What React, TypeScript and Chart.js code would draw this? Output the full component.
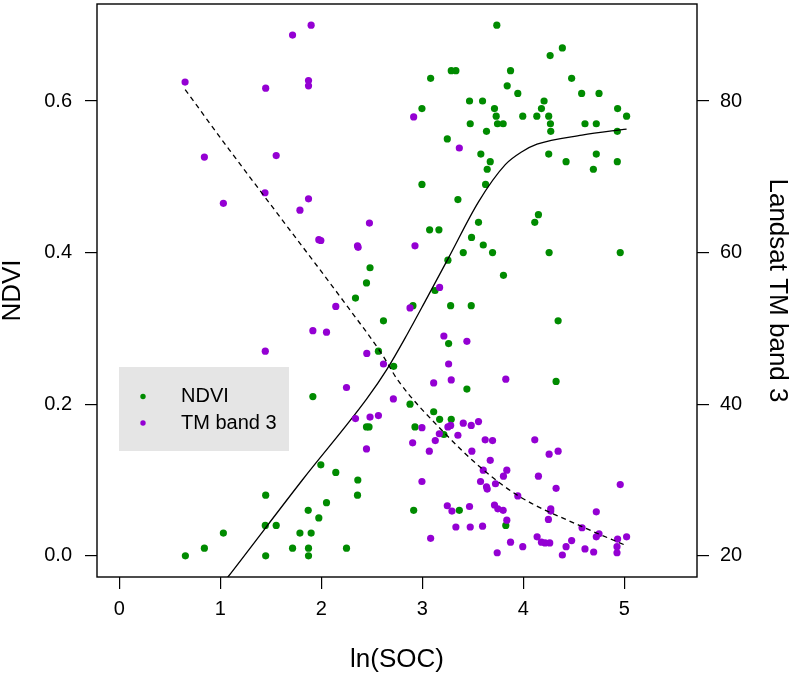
import React, { useEffect, useRef } from "react";
import { Chart, registerables } from "chart.js";

Chart.register(...registerables);

// ln(SOC) vs NDVI (green points)
const ndviX = [
  3.738, 4.387, 4.266, 3.287, 3.333, 3.874, 3.083, 4.479, 3.841, 3.946, 4.578, 4.75, 3.468, 3.597, 4.206,
  2.997, 3.715, 4.18, 4.934, 3.732, 3.995, 4.134, 4.252, 5.023, 3.475, 3.745, 3.801, 4.269, 4.611, 4.723,
  3.636, 4.272, 4.931, 3.248, 3.58, 4.252, 4.723, 3.673, 4.424, 4.931, 3.643, 4.694, 2.997, 3.627, 3.353,
  4.15, 4.114, 3.557, 3.073, 3.165, 3.488, 3.604, 3.406, 3.696, 4.256, 4.96, 3.254, 3.804, 3.126, 2.908,
  3.281, 3.485, 4.345, 3.261, 4.325, 3.442, 2.483, 2.448, 2.339, 2.616, 2.566, 2.717, 2.879, 3.113, 3.172,
  3.287, 2.928, 3.214, 2.915, 3.367, 3.827, 1.917, 2.448, 2.473, 1.996, 2.144, 2.362, 1.45, 2.359, 2.052,
  1.871, 1.976, 1.031, 1.446, 1.554, 1.789, 1.9, 0.843, 1.716, 1.874, 2.25, 0.655, 1.45, 1.874,
];
const ndviY = [
  0.7, 0.67, 0.66, 0.64, 0.64, 0.64, 0.63, 0.63, 0.62, 0.61, 0.61, 0.61, 0.6, 0.6, 0.6,
  0.59, 0.59, 0.59, 0.59, 0.58, 0.58, 0.58, 0.58, 0.58, 0.57, 0.57, 0.57, 0.57, 0.57, 0.57,
  0.56, 0.56, 0.56, 0.55, 0.53, 0.53, 0.53, 0.52, 0.52, 0.52, 0.51, 0.51, 0.49, 0.49, 0.47,
  0.45, 0.44, 0.44, 0.43, 0.43, 0.42, 0.41, 0.4, 0.4, 0.4, 0.4, 0.39, 0.37, 0.35, 0.33,
  0.33, 0.33, 0.31, 0.28, 0.23, 0.22, 0.38, 0.36, 0.34, 0.31, 0.27, 0.25, 0.2, 0.19, 0.18,
  0.18, 0.17, 0.16, 0.06, 0.06, 0.04, 0.21, 0.17, 0.17, 0.12, 0.11, 0.1, 0.08, 0.08, 0.07,
  0.06, 0.05, 0.03, 0.04, 0.04, 0.03, 0.03, 0.01, 0.01, 0.01, 0.01, 0.0, 0.0, 0.0,
];

// ln(SOC) vs Landsat TM band 3 (purple points)
const tmX = [
  0.652, 1.716, 1.9, 1.45, 1.874, 1.874, 0.843, 1.554, 1.443, 1.874, 1.031, 2.915, 3.367, 1.789, 2.477,
  1.976, 1.996, 2.359, 2.365, 2.144, 1.917, 2.052, 1.446, 2.451, 2.616, 2.25, 2.928, 3.172, 2.879, 3.214,
  3.442, 3.261, 3.113, 3.287, 3.827, 2.714, 2.339, 2.483, 2.566, 2.448, 2.997, 2.905, 3.07, 3.129, 3.169,
  3.254, 3.281, 3.353, 3.406, 3.485, 3.557, 3.623, 3.696, 3.491, 3.673, 3.604, 3.837, 3.804, 3.577, 3.725,
  3.636, 3.643, 2.997, 4.114, 4.256, 4.345, 4.15, 4.325, 4.96, 3.248, 3.294, 3.468, 3.715, 3.748, 3.801,
  3.837, 4.272, 4.272, 4.249, 4.723, 3.333, 3.475, 3.597, 3.083, 3.946, 4.582, 4.137, 4.18, 4.216, 4.262,
  3.874, 3.995, 3.742, 4.387, 4.424, 4.479, 4.611, 4.697, 4.723, 4.75, 4.934, 5.023, 4.928, 4.928,
];
const tmY = [
  82.5, 88.7, 90.0, 81.7, 82.7, 82.0, 72.6, 72.8, 67.9, 67.1, 66.5, 77.9, 73.8, 65.6, 63.9,
  61.7, 61.6, 60.9, 60.7, 52.9, 49.7, 49.5, 47.0, 46.7, 45.3, 42.2, 60.9, 55.4, 52.7, 49.0,
  48.3, 45.3, 42.8, 43.2, 43.3, 40.7, 38.1, 38.3, 38.5, 34.1, 36.9, 34.9, 33.8, 35.2, 36.1,
  37.0, 37.2, 35.9, 37.5, 37.2, 37.7, 35.3, 35.2, 33.8, 32.6, 31.3, 31.3, 30.5, 29.8, 29.5,
  29.1, 28.8, 29.8, 35.3, 33.4, 33.8, 30.5, 28.9, 29.4, 26.6, 25.9, 26.5, 26.7, 26.2, 26.0,
  24.7, 26.2, 25.9, 24.8, 25.8, 23.8, 23.8, 23.9, 22.3, 27.9, 23.7, 22.5, 21.8, 21.7, 21.7,
  21.8, 21.2, 20.4, 20.1, 21.2, 22.0, 20.9, 20.5, 22.5, 22.9, 22.2, 22.5, 21.2, 20.4,
];

// smoothed fits
const ndviFitX = [0.652, 1.076, 1.813, 2.45, 2.65, 2.85, 3.046, 3.26, 3.557, 3.822, 3.987, 4.136, 4.581, 5.023];
const ndviFitY = [-0.1, -0.028, 0.1, 0.207, 0.246, 0.292, 0.34, 0.393, 0.467, 0.516, 0.533, 0.543, 0.555, 0.563];
const tmFitX = [0.653, 1.088, 1.478, 2.27, 2.601, 2.762, 3.228, 3.591, 3.953, 4.581, 5.01];
const tmFitY = [81.5, 73.6, 66.7, 52.7, 46.6, 43.1, 36.1, 31.5, 27.9, 23.85, 21.4];

const xTicks = [0, 1, 2, 3, 4, 5];
const ndviTicks = [0, 0.2, 0.4, 0.6];
const tmTicks = [20, 40, 60, 80];

const legendLabels = ["NDVI", "TM band 3"];

const GREEN = "#008B00";
const PURPLE = "#9400D3";
const FONT = "'Liberation Sans', Arial, Helvetica, sans-serif";

export default function App() {
  const ref = useRef<HTMLCanvasElement>(null);

  useEffect(() => {
    if (!ref.current) return;
    const pts = (xs: number[], ys: number[]) => xs.map((x, i) => ({ x, y: ys[i] }));

    const framePlugin = {
      id: "frameAndLegend",
      afterDatasetsDraw(chart: any) {
        const ctx = chart.ctx;
        const ca = chart.chartArea;
        const lx = ca.left + 22;
        const ly = 367;
        ctx.save();
        ctx.fillStyle = "#e5e5e5";
        ctx.fillRect(lx, ly, 170, 84);
        const colors = [GREEN, PURPLE];
        const rows = [396.5, 423];
        ctx.font = `20px ${FONT}`;
        ctx.textBaseline = "middle";
        ctx.textAlign = "left";
        for (let i = 0; i < 2; i++) {
          ctx.fillStyle = colors[i];
          ctx.beginPath();
          ctx.arc(lx + 24, rows[i], 2.7, 0, Math.PI * 2);
          ctx.fill();
          ctx.fillStyle = "#000";
          ctx.fillText(legendLabels[i], lx + 62, rows[i]);
        }
        ctx.restore();
      },
      afterDraw(chart: any) {
        const ctx = chart.ctx;
        const ca = chart.chartArea;
        ctx.save();
        ctx.strokeStyle = "#000";
        ctx.lineWidth = 1.4;
        ctx.strokeRect(ca.left, ca.top, ca.right - ca.left, ca.bottom - ca.top);
        ctx.restore();
      },
    };

    const tickFont = { family: FONT, size: 20 };
    const titleFont = { family: FONT, size: 26, lineHeight: 1 };
    const gridOpts = {
      display: true,
      drawOnChartArea: false,
      drawTicks: true,
      tickLength: 12,
      color: "#000",
      lineWidth: 1.2,
    };
    const noPad = (s: any) => {
      s.paddingTop = 0;
      s.paddingBottom = 0;
      s.paddingLeft = 0;
      s.paddingRight = 0;
    };

    const chart = new Chart(ref.current, {
      type: "scatter",
      data: {
        datasets: [
          {
            label: "dashed",
            data: pts(tmFitX, tmFitY),
            yAxisID: "y2",
            showLine: true,
            borderColor: "#000",
            borderWidth: 1.3,
            borderDash: [5, 4],
            pointRadius: 0,
            fill: false,
            cubicInterpolationMode: "monotone",
            order: 1,
          },
          {
            label: "TM band 3",
            data: pts(tmX, tmY),
            yAxisID: "y2",
            backgroundColor: PURPLE,
            borderWidth: 0,
            pointRadius: 3.6,
            order: 2,
          },
          {
            label: "solid",
            data: pts(ndviFitX, ndviFitY),
            yAxisID: "y",
            showLine: true,
            borderColor: "#000",
            borderWidth: 1.3,
            pointRadius: 0,
            fill: false,
            cubicInterpolationMode: "monotone",
            order: 3,
          },
          {
            label: "NDVI",
            data: pts(ndviX, ndviY),
            yAxisID: "y",
            backgroundColor: GREEN,
            borderWidth: 0,
            pointRadius: 3.6,
            order: 4,
          },
        ],
      },
      options: {
        responsive: false,
        animation: false,
        events: [],
        layout: { padding: { top: 2, left: 0, right: 0, bottom: 0 } },
        plugins: { legend: { display: false }, tooltip: { enabled: false } },
        scales: {
          x: {
            type: "linear",
            position: "bottom",
            min: -0.22,
            max: 5.72,
            afterBuildTicks: (s: any) => {
              s.ticks = xTicks.map((v) => ({ value: v }));
            },
            afterFit: (s: any) => {
              s.height = 98;
              noPad(s);
            },
            grid: gridOpts,
            border: { display: false },
            ticks: { font: tickFont, color: "#000", padding: 8, maxRotation: 0, callback: (v: any) => String(v) },
            title: { display: true, text: "ln(SOC)", font: titleFont, color: "#000", padding: { top: 0, bottom: 2 } },
          },
          y: {
            type: "linear",
            position: "left",
            min: -0.028,
            max: 0.728,
            afterBuildTicks: (s: any) => {
              s.ticks = ndviTicks.map((v) => ({ value: v }));
            },
            afterFit: (s: any) => {
              s.width = 97;
              noPad(s);
            },
            grid: gridOpts,
            border: { display: false },
            ticks: { font: tickFont, color: "#000", padding: 13, callback: (v: any) => Number(v).toFixed(1) },
            title: { display: true, text: "NDVI", font: titleFont, color: "#000", padding: { top: 0, bottom: 0 } },
          },
          y2: {
            type: "linear",
            position: "right",
            min: 17.2,
            max: 92.8,
            afterBuildTicks: (s: any) => {
              s.ticks = tmTicks.map((v) => ({ value: v }));
            },
            afterFit: (s: any) => {
              s.width = 93;
              noPad(s);
            },
            grid: gridOpts,
            border: { display: false },
            ticks: { font: tickFont, color: "#000", padding: 11, callback: (v: any) => String(v) },
            title: { display: true, text: "Landsat TM band 3", font: titleFont, color: "#000", padding: { top: 0, bottom: 0 } },
          },
        },
      },
      plugins: [framePlugin],
    } as any);

    return () => chart.destroy();
  }, []);

  return (
    <div style={{ position: "absolute", left: 0, top: 0, width: 790, height: 675, background: "#fff" }}>
      <canvas ref={ref} width={790} height={675} style={{ display: "block", width: 790, height: 675 }} />
    </div>
  );
}
